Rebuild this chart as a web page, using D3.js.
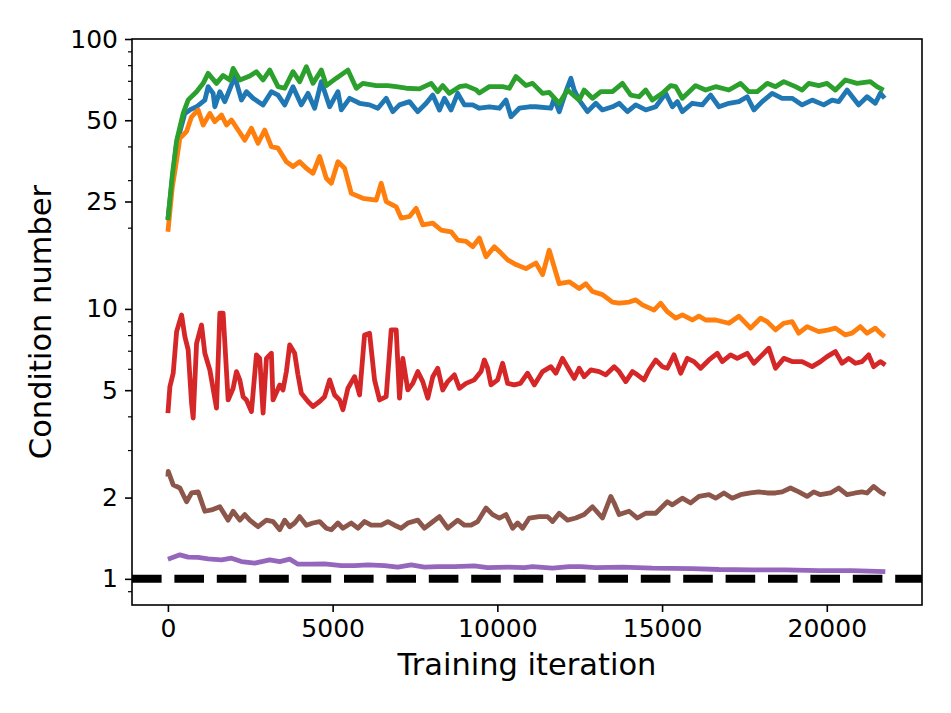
<!DOCTYPE html>
<html>
<head>
<meta charset="utf-8">
<script src="https://cdn.jsdelivr.net/npm/d3@7"></script>
<style>
  html, body { margin: 0; padding: 0; background: #fff; }
  svg { display: block; }
  text { font-family: "DejaVu Sans", sans-serif; fill: #000; }
</style>
</head>
<body>
<svg id="chart" width="951" height="713"></svg>
<script>
// ---------------- data ----------------
const xTicks = [0, 5000, 10000, 15000, 20000];
const yMajorTicks = [1, 2, 5, 10, 25, 50, 100];
const yMinorTicks = [0.9, 3, 4, 6, 7, 8, 9, 20, 30, 40, 60, 70, 80, 90];
const referenceLevel = 1;

const blueX = [0,130,264,515,666,870,1121,1221,1373,1424,1576,1727,1828,2030,2233,2384,2585,2889,3141,3343,3545,3797,4050,4252,4454,4657,4909,5161,5263,5515,5818,6121,6373,6627,6827,7030,7333,7585,7839,8040,8242,8393,8596,8797,9000,9252,9454,9757,10060,10262,10414,10666,10969,11171,11626,11726,11878,12080,12232,12333,12484,12736,12989,13190,13494,13696,13949,14201,14504,14807,15110,15312,15464,15615,15918,16221,16474,16726,17029,17332,17584,17787,18039,18342,18645,18948,19252,19555,19908,20161,20363,20615,20969,21221,21474,21626,21756];
const blueY = [21.5,30,41,53,54.6,56.1,59.4,66.6,62.9,56.1,63.8,58.6,62.9,72.6,59.4,63.8,60.3,57,63.8,62,57,66.6,57,62.9,55.4,69.5,56.1,63.8,54.6,60.3,57.8,57,55.4,60.3,53.8,57,58.6,53.8,57.8,62,54.6,60.3,54.6,62.9,57,57,55.4,56.1,55.4,59.4,51.5,55.4,56.1,56.1,55.4,60.3,53.8,63.8,71.5,64.7,59.4,53.8,57.8,54.6,56.1,57.8,53.8,57,54.6,56.1,62.9,56.1,58.6,53.8,57.8,57,62,56.1,57.8,58.6,61.1,54.6,58.6,62.9,60.3,60.3,57,59.4,57,59.4,58.6,64.7,57,61.1,57.8,62.9,60.3];

const orangeX = [0,130,264,364,566,718,918,1070,1273,1424,1627,1778,1930,2130,2333,2536,2736,2939,3141,3343,3596,3797,3999,4202,4403,4605,4808,4960,5161,5363,5566,5918,6324,6475,6627,6930,7081,7333,7535,7736,8040,8292,8596,8797,9050,9252,9454,9657,9908,10111,10313,10565,10868,11171,11373,11575,11726,11878,12181,12484,12686,12887,13190,13494,13696,13999,14201,14403,14756,14958,15160,15414,15615,15918,16120,16322,16625,17029,17332,17686,17989,18191,18444,18696,18948,19150,19403,19756,20059,20261,20564,20766,21019,21221,21474,21626,21756];
const orangeY = [19.3,28,35.6,42.9,45.4,51.5,54.6,48,53,49.4,52.3,48,50.1,46,42.2,46.7,41.1,46,39.9,39.4,35.1,33.7,35.1,33.2,31.8,36.7,30.5,29.2,35.1,33.2,26.8,25.7,25.3,29.2,25,23.9,21.7,22,23.6,20.5,20.8,19.6,19.3,18,17.8,17,18.3,15.6,17,16.1,15.2,14.6,14.1,14.8,13.4,16.5,14.3,12.4,12.6,11.9,12.4,11.6,11.3,10.6,10.5,10.6,10.8,10.35,9.9,10.5,9.77,9.24,9.5,9.1,9.4,9.1,9.1,8.85,9.4,8.49,9.24,8.97,8.36,8.85,8.97,8.13,8.6,8.24,8.36,8.49,8.01,8.13,8.6,8.13,8.49,8.13,7.9];

const greenX = [0,130,264,464,616,870,1070,1221,1475,1676,1879,1980,2182,2485,2687,2889,3091,3343,3545,3797,3999,4202,4403,4657,4809,5112,5463,5718,5918,6324,6675,6930,7233,7636,7990,8190,8342,8545,8848,9050,9354,9454,9757,10160,10363,10565,10868,11070,11373,11575,11878,12130,12484,12635,12887,13140,13494,13797,14050,14302,14504,14706,15009,15262,15414,15615,16019,16322,16625,17029,17383,17635,17888,18191,18444,18696,19050,19252,19453,19756,20008,20261,20564,20917,21321,21523,21725];
const greenY = [21.3,31,42,53,59.5,63.8,68.5,74.6,68.5,73.3,70.5,77.8,70.5,72.9,75.7,70.5,76.7,66.6,65.7,75.7,69.5,79,68.5,76.7,67.2,71.6,76.7,65.7,68.5,67.2,67.2,66.6,65.7,65.3,68.5,63.8,67.2,62.9,66.6,67.2,64.8,63.1,66.6,66.6,65.7,72.6,67.2,68.5,62.9,63.4,57.8,64.7,59.4,64.7,60.3,63.8,63.8,68.5,62,61.1,64.7,59.4,62.9,67.2,66.6,60.3,67.2,64.7,66.6,64.7,68.5,63.8,63.8,68.5,66.6,69.5,66.6,64.7,68.5,67.2,68.5,64.7,70.5,68.5,69.5,66.6,64.7];

const redX = [0,60,161,264,415,515,615,718,767,870,1021,1121,1273,1475,1576,1676,1828,1980,2082,2182,2283,2384,2536,2687,2788,2889,2990,3141,3191,3394,3494,3596,3697,3848,3948,4050,4252,4403,4605,4757,4909,5060,5212,5313,5464,5666,5818,5969,6121,6272,6424,6626,6778,6930,7030,7130,7282,7433,7585,7736,7888,8040,8191,8342,8494,8696,8848,9050,9302,9504,9605,9706,9807,10009,10160,10312,10514,10700,10918,11121,11373,11626,11777,11979,12181,12333,12484,12636,12838,13090,13292,13545,13696,13898,14100,14251,14453,14605,14807,15009,15160,15363,15565,15767,15969,16171,16423,16675,16826,17080,17281,17584,17787,17989,18241,18444,18696,18948,19252,19555,19807,20008,20261,20463,20665,20867,21069,21271,21422,21625,21776];
const redY = [4.11,5.15,5.78,8.24,9.5,7.9,7.05,4.47,3.94,7.46,8.72,6.85,5.94,4.29,9.64,9.64,4.6,5.08,5.86,5.46,4.73,4.6,4.17,6.76,6.56,4.11,6.56,6.85,4.6,5.23,5.01,5.86,7.36,6.85,5.7,4.87,4.54,4.35,4.54,4.73,5.46,4.8,4.6,4.23,5.08,5.61,4.8,8.01,8.13,5.46,4.6,4.73,8.36,8.36,4.67,6.56,5.01,5.3,5.86,5.38,4.67,5.61,6.03,5.01,5.38,5.7,5.08,5.3,5.46,5.86,6.47,6.03,5.23,5.46,6.29,5.3,5.23,5.3,5.78,5.23,5.86,6.11,5.78,6.56,5.94,5.53,6.03,5.61,5.94,5.86,5.7,6.11,5.86,5.38,5.86,5.7,5.46,5.94,6.47,6.11,6.03,6.76,5.78,6.56,6.38,6.03,6.47,6.85,6.38,6.76,6.56,6.85,6.29,6.66,7.15,6.03,6.56,6.38,6.38,6.11,6.38,6.66,6.95,6.29,6.56,6.29,6.38,6.76,6.11,6.38,6.2];

const purpleX = [0,364,615,918,1221,1627,1930,2233,2636,3091,3394,3697,3949,4353,4757,5263,5666,6070,6575,6979,7383,7787,8191,8696,9302,9706,10312,10817,11070,11676,12181,12535,12989,13797,14706,15918,16726,17736,18747,19756,20766,21776];
const purpleY = [1.183,1.227,1.203,1.2,1.186,1.176,1.193,1.159,1.143,1.176,1.159,1.183,1.133,1.133,1.136,1.12,1.12,1.127,1.12,1.105,1.127,1.105,1.11,1.11,1.117,1.1,1.105,1.1,1.11,1.095,1.11,1.11,1.1,1.105,1.095,1.092,1.083,1.08,1.08,1.073,1.073,1.064];

const brownX = [0,10,161,364,566,718,918,1121,1324,1576,1828,1980,2182,2333,2485,2737,2990,3191,3394,3545,3697,3848,3999,4202,4403,4605,4808,4960,5161,5312,5566,5767,5969,6171,6475,6676,6878,7081,7282,7585,7787,7990,8242,8494,8797,9000,9202,9403,9656,9858,10060,10262,10463,10615,10767,10969,11272,11524,11676,11878,12130,12382,12635,12887,13190,13443,13545,13696,13999,14251,14504,14807,15160,15312,15615,15868,16120,16423,16625,16877,17130,17382,17686,17938,18191,18444,18645,18898,19150,19403,19605,19807,20110,20363,20615,20867,21069,21221,21422,21625,21776];
const brownY = [2.39,2.5,2.23,2.17,1.93,2.08,2.1,1.78,1.8,1.85,1.65,1.78,1.65,1.73,1.65,1.56,1.65,1.63,1.52,1.65,1.56,1.61,1.7,1.58,1.61,1.63,1.54,1.52,1.61,1.54,1.61,1.54,1.63,1.58,1.58,1.63,1.58,1.54,1.61,1.65,1.54,1.61,1.7,1.54,1.65,1.58,1.58,1.63,1.83,1.73,1.68,1.73,1.54,1.61,1.54,1.68,1.7,1.7,1.63,1.75,1.65,1.68,1.73,1.85,1.68,2.02,1.91,1.73,1.78,1.68,1.75,1.75,1.93,1.88,1.99,1.91,2.02,2.05,1.99,2.08,1.99,2.05,2.08,2.1,2.08,2.08,2.1,2.17,2.1,2.02,2.1,2.05,2.08,2.17,2.05,2.08,2.1,2.08,2.2,2.1,2.05];

const seriesList = [
  { xs: blueX,   ys: blueY,   color: "#1f77b4" },
  { xs: orangeX, ys: orangeY, color: "#ff7f0e" },
  { xs: greenX,  ys: greenY,  color: "#2ca02c" },
  { xs: redX,    ys: redY,    color: "#d62728" },
  { xs: purpleX, ys: purpleY, color: "#9467bd" },
  { xs: brownX,  ys: brownY,  color: "#8c564b" }
];

// ---------------- layout ----------------
const L = 132, R = 922, T = 39, B = 605;
const svg = d3.select("#chart");

const x = d3.scaleLinear().domain([-1090, 22890]).range([L, R]);
const y = d3.scaleLog().domain([0.8, 100]).range([B, T]);

svg.append("defs").append("clipPath").attr("id", "plotclip")
  .append("rect").attr("x", L).attr("y", T).attr("width", R - L).attr("height", B - T);

const plot = svg.append("g").attr("clip-path", "url(#plotclip)");

const line = d3.line().x(d => x(d[0])).y(d => y(d[1]));

seriesList.forEach(s => {
  const pts = s.xs.map((v, i) => [v, s.ys[i]]);
  plot.append("path")
    .datum(pts)
    .attr("d", line)
    .attr("fill", "none")
    .attr("stroke", s.color)
    .attr("stroke-width", 4.8)
    .attr("stroke-linejoin", "round")
    .attr("stroke-linecap", "butt");
});

// dashed reference line at 1
plot.append("line")
  .attr("x1", L).attr("x2", R)
  .attr("y1", y(referenceLevel)).attr("y2", y(referenceLevel))
  .attr("stroke", "#000")
  .attr("stroke-width", 8)
  .attr("stroke-dasharray", "29.6,12.8");

// ---------------- axes ----------------
const fs = 25;
const xAxis = d3.axisBottom(x).tickValues(xTicks).tickFormat(d3.format("d")).tickSize(7).tickPadding(7);
const gx = svg.append("g").attr("transform", `translate(0,${B})`).call(xAxis);
gx.select(".domain").remove();
gx.selectAll("line").attr("stroke", "#000").attr("stroke-width", 1.6);
gx.selectAll("text").style("font-size", fs + "px").style("font-family", "DejaVu Sans");

const yAxis = d3.axisLeft(y).tickValues(yMajorTicks).tickFormat(d => String(d)).tickSize(7).tickPadding(7);
const gy = svg.append("g").attr("transform", `translate(${L},0)`).call(yAxis);
gy.select(".domain").remove();
gy.selectAll("line").attr("stroke", "#000").attr("stroke-width", 1.6);
gy.selectAll("text").style("font-size", fs + "px").style("font-family", "DejaVu Sans");

const yMinor = d3.axisLeft(y).tickValues(yMinorTicks).tickFormat("").tickSize(4);
const gym = svg.append("g").attr("transform", `translate(${L},0)`).call(yMinor);
gym.select(".domain").remove();
gym.selectAll("line").attr("stroke", "#000").attr("stroke-width", 1.2);

// frame
svg.append("rect")
  .attr("x", L).attr("y", T).attr("width", R - L).attr("height", B - T)
  .attr("fill", "none").attr("stroke", "#000").attr("stroke-width", 1.6);

// axis labels
svg.append("text")
  .attr("x", (L + R) / 2).attr("y", 675)
  .attr("text-anchor", "middle")
  .style("font-size", "30.5px")
  .text("Training iteration");

svg.append("text")
  .attr("transform", `translate(51,${(T + B) / 2}) rotate(-90)`)
  .attr("text-anchor", "middle")
  .style("font-size", "30.5px")
  .text("Condition number");
</script>
</body>
</html>
